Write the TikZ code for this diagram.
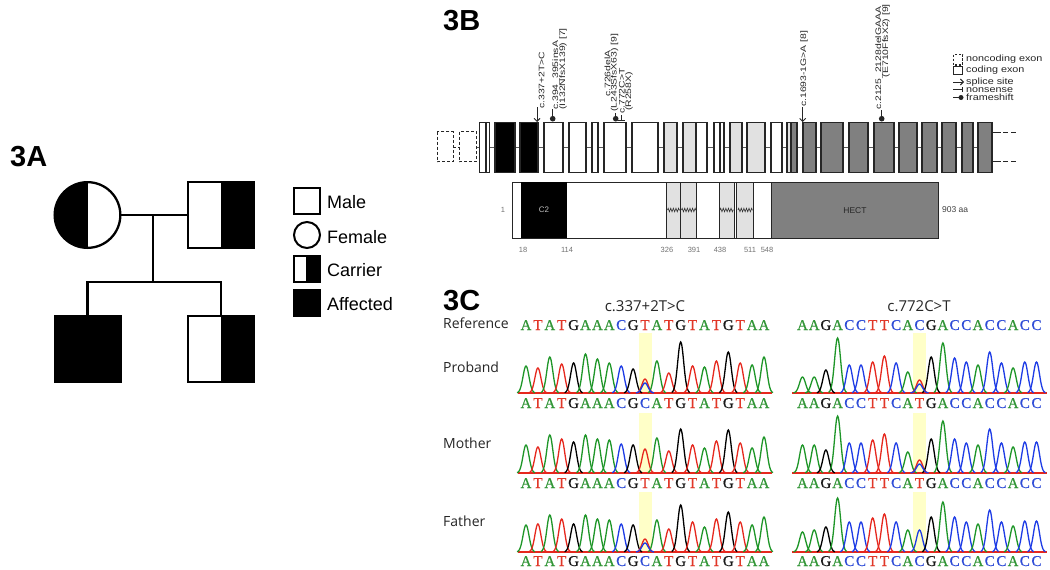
\documentclass[tikz,border=0pt]{standalone}
\usepackage{fontspec}
\setmainfont{Liberation Sans}
\newfontfamily\osans{Open Sans}
\newfontfamily\seqserif[FakeBold=0.6]{Liberation Serif}
\newfontfamily\mutfont[FakeStretch=1.3]{Liberation Sans}
\newfontfamily\legfont[FakeStretch=1.2]{Liberation Sans}
\usetikzlibrary{arrows.meta,decorations.pathmorphing,calc}
\newcommand\myfs[1]{\fontsize{#1}{#1}\selectfont}
\definecolor{chA}{RGB}{30,150,40}
\definecolor{chT}{RGB}{230,40,30}
\definecolor{chG}{RGB}{0,0,0}
\definecolor{chC}{RGB}{30,60,230}
\definecolor{sA}{RGB}{50,150,55}
\definecolor{sT}{RGB}{225,55,40}
\definecolor{sG}{RGB}{25,25,25}
\definecolor{sC}{RGB}{45,75,215}
\definecolor{exl}{RGB}{225,225,225}
\definecolor{exd}{RGB}{128,128,128}
\definecolor{hl}{RGB}{255,255,200}
\newcommand\chrom[4]{%
  \foreach \L/\H [count=\i from 0] in {#4}{%
    \pgfmathsetmacro\px{#1+#2*\i}
    \draw[draw=ch\L, line width=1.3pt] plot[domain=-9:9, samples=29, smooth] ({\px+(\x)},{#3-\H*exp(-(\x)*(\x)/18)});
  }%
}
\newcommand\pk[4]{\draw[draw=#4, line width=1.3pt] plot[domain=-9:9, samples=29, smooth] ({#1+(\x)},{#2-#3*exp(-(\x)*(\x)/18)});}
\newcommand\seqrow[5]{%
  \foreach \L [count=\i from 0] in {#5}{%
    \pgfmathsetmacro\px{#2+#3*\i}
    \node[seqltr, text=s\L] (#1\i) at (\px,#4) {\L};
  }%
}
\begin{document}
\begin{tikzpicture}[x=1pt, y=-1pt,
  ped/.style={draw, line width=2.3pt, inner sep=0pt, outer sep=0pt, minimum size=65.7pt},
  pedsq/.style={ped, rectangle},
  pedci/.style={ped, circle},
  halfR/.style={path picture={\fill[black] (path picture bounding box.north) rectangle (path picture bounding box.south east);}},
  halfL/.style={path picture={\fill[black] (path picture bounding box.north west) rectangle (path picture bounding box.south);}},
  pedline/.style={line width=2.3pt},
  legsym/.style={draw, line width=2pt, inner sep=0pt, outer sep=0pt, minimum size=26pt},
  leglbl/.style={anchor=base west, inner sep=0pt, font=\myfs{18}},
  panel/.style={anchor=base west, inner sep=0pt, font=\bfseries\myfs{29}},
  exon/.style={draw=black!85, line width=1.1pt},
  ncexon/.style={draw=black!85, line width=1.1pt, dash pattern=on 3pt off 2pt},
  intron/.style={draw=black!65, line width=0.9pt},
  mut/.style={rotate=90, inner sep=0pt, font=\mutfont\myfs{8}, text=black!85},
  marker/.style={line width=0.9pt, draw=black!85},
  splice/.style={marker, -{Straight Barb[length=3pt,width=6pt]}},
  legtxt/.style={anchor=west, inner sep=0pt, font=\legfont\myfs{9}, text=black!85},
  prot/.style={draw=black!85, line width=1pt},
  pnum/.style={inner sep=0pt, font=\myfs{7.5}, text=black!55},
  zz/.style={draw=black!80, line width=0.6pt, decorate, decoration={zigzag, segment length=2.6pt, amplitude=1.8pt}},
  hdr/.style={anchor=base, inner sep=0pt, font=\osans\myfs{15}, text=black!85},
  rowlbl/.style={anchor=base west, inner sep=0pt, font=\osans\myfs{14}, text=black!85},
  seqltr/.style={anchor=base, inner sep=0pt, font=\seqserif\myfs{15}},
  base/.style={draw=chT, line width=1.4pt}
]
\fill[white] (0,0) rectangle (1050,570);
\path[use as bounding box] (0,0) rectangle (1050,570);

% ---------------- 3A ----------------
\node[panel] (lblA) at (10,166.7) {3A};
\node[pedci, halfL] (mother) at (87.5,215) {};
\node[pedsq, halfR] (father) at (221,215) {};
\node[pedsq, fill=black] (son1) at (87.5,349) {};
\node[pedsq, halfR] (son2) at (221,349) {};
\coordinate (mid) at (153,215);
\coordinate (sib) at (153,282);
\coordinate (sibL) at (87.5,282);
\coordinate (sibR) at (221,282);
\draw[pedline] (mother.east) -- (father.west);
\draw[pedline] (mid) -- (sib);
\draw[pedline] (son1.north) -- (sibL) -- (sibR) -- (son2.north);

\node[legsym, rectangle] (lgMale) at (307,201) {};
\node[legsym, circle] (lgFemale) at (307,235) {};
\node[legsym, rectangle, path picture={\fill ($(path picture bounding box.north west)!0.45!(path picture bounding box.north east)$) rectangle (path picture bounding box.south east);}] (lgCarrier) at (307,268.5) {};
\node[legsym, rectangle, fill=black] (lgAff) at (307,302.5) {};
\node[leglbl] (tMale) at (327,208) {Male};
\node[leglbl] (tFemale) at (327,243) {Female};
\node[leglbl] (tCarrier) at (327,276.7) {Carrier};
\node[leglbl] (tAff) at (327,310) {Affected};

% ---------------- 3B ----------------
\node[panel] (lblB) at (443,30) {3B};
\draw[intron] (477,147.7) -- (978,147.7);
\draw[ncexon] (437.3,131.7) rectangle (453.3,161.7);
\draw[ncexon] (459.3,131.7) rectangle (476.7,161.7);
\draw[ncexon] (453.3,147.7) -- (459.3,147.7);
\foreach \a/\b/\f in {479.3/486/white, 486/489.3/white, 495/515/black, 520/538/black,
  544/563/white, 569/586/white, 592/598/white, 604/626/white, 632/658/white,
  664/677/exl, 683/696/exl, 696/707/white, 714/720/white, 720/724/white,
  730/742/exl, 747/765/exl, 771/782/white, 787/791/exl, 791/797/exd,
  803/816/exd, 821/843/exd, 849/868/exd, 874/894/exd, 899/917/exd,
  922/937/exd, 942/956/exd, 962/973/exd, 978/992/exd}
  {\draw[exon, fill=\f] (\a,122.7) rectangle (\b,172.7);}
\draw[exon] (992,132.7) -- (1001,132.7);
\draw[exon] (992,161.7) -- (1001,161.7);
\draw[exon, dash pattern=on 5pt off 3pt] (1003,132.7) -- (1018,132.7);
\draw[exon, dash pattern=on 5pt off 3pt] (1003,161.7) -- (1018,161.7);

% mutation markers
\draw[splice] (537,107) -- (537,122);
\draw[marker] (552.7,109) -- (552.7,118);
\fill[black!85] (552.7,118.7) circle[radius=2.8];
\draw[marker] (615.7,113) -- (615.7,118);
\fill[black!85] (615.7,118.7) circle[radius=2.8];
\draw[marker] (621.7,115) -- (621.7,120.5);
\draw[marker] (618.3,120.5) -- (625.1,120.5);
\draw[splice] (802.7,107) -- (802.7,122);
\draw[marker] (881.7,110) -- (881.7,118);
\fill[black!85] (881.7,118.7) circle[radius=2.8];

\node[mut, anchor=west] (m1) at (541.5,109) {c.337+2T>C};
\node[mut, anchor=west] (m2a) at (556,110) {c.394\_395insA};
\node[mut, anchor=west] (m2b) at (563,110) {(I132NfsX139) [7]};
\node[mut, anchor=west] (m3a) at (607.5,97) {c.726delA};
\node[mut, anchor=west] (m3b) at (614.5,112) {(L243SfsX63) [9]};
\node[mut, anchor=west] (m4a) at (621.8,114) {c.772C>T};
\node[mut, anchor=west] (m4b) at (629,111) {(R258X)};
\node[mut, anchor=west] (m5) at (804,107) {c.1693-1G>A [8]};
\node[mut, anchor=west] (m6a) at (879,110) {c.2125\_2128delGAAA};
\node[mut, anchor=east] (m6b) at (886,4) {(E710FfsX2) [9]};

% legend 3B
\draw[ncexon, dash pattern=on 2.5pt off 1.5pt] (953.3,54.5) rectangle (962.7,65);
\draw[exon] (953.3,66.5) rectangle (962.7,74.5);
\draw[splice] (953,82) -- (964,82);
\draw[marker] (953,89.5) -- (962,89.5);
\draw[marker] (962,87) -- (962,92);
\draw[marker] (953,97.5) -- (960,97.5);
\fill[black!85] (961,97.5) circle[radius=2.5];
\node[legtxt] (ln1) at (966,59.5) {noncoding exon};
\node[legtxt] (ln2) at (966,70.5) {coding exon};
\node[legtxt] (ln3) at (966,82.3) {splice site};
\node[legtxt] (ln4) at (966,89.8) {nonsense};
\node[legtxt] (ln5) at (966,97.5) {frameshift};

% protein
\draw[prot, fill=white] (512.7,182.3) rectangle (938,238.3);
\fill[black] (520.7,182.3) rectangle (567.3,238.3);
\foreach \a/\b in {666/680.7, 680.7/696.7, 719/734, 736.7/753.3}
  {\draw[prot, fill=exl] (\a,182.3) rectangle (\b,238.3);}
\draw[prot] (734,182.3) -- (734,238.3);
\draw[prot, fill=exd] (771.7,182.3) rectangle (938,238.3);
\foreach \a/\b in {667.5/680, 681.5/696, 720/733.5, 738/752.5}
  {\draw[zz] (\a,210) -- (\b,210);}
\node[inner sep=0pt, font=\myfs{8}, text=black!25] (c2) at (544,210) {C2};
\node[inner sep=0pt, font=\myfs{8.5}, text=black!85] (hect) at (855,211) {HECT};
\node[pnum] (p1) at (503,210) {1};
\node[pnum, anchor=west, font=\myfs{8.5}, text=black!75] (p903) at (942,210) {903 aa};
\foreach \v/\xx in {18/523, 114/567, 326/667, 391/694, 438/720, 511/750, 548/767}
  {\node[pnum] (n\v) at (\xx,250) {\v};}

% ---------------- 3C ----------------
\node[panel] (lblC) at (443,310) {3C};
\node[hdr] (h1) at (645,311.5) {c.337+2T>C};
\node[hdr] (h2) at (919,311.5) {c.772C>T};
\node[rowlbl] (rRef) at (443,328.3) {Reference};
\node[rowlbl] (rPro) at (443,372) {Proband};
\node[rowlbl] (rMot) at (443,448) {Mother};
\node[rowlbl] (rFat) at (443,526.7) {Father};

% highlights
\foreach \y in {333, 413, 492}{
  \fill[hl] (639,\y) rectangle (652,\y+60);
  \fill[hl] (913,\y) rectangle (926,\y+60);
}

% baselines
\foreach \y in {393, 473, 552}{
  \draw[base] (518,\y) -- (772,\y);
  \draw[base] (792,\y) -- (1047,\y);
}

% proband
\chrom{526}{11.9}{393}{A/27,T/25,A/36,T/29,G/30,A/39,A/34,A/30,C/27,G/24,T/14,A/32,T/20,G/51,T/27,A/26,T/32,G/41,T/30,A/28,A/36}
\pk{645}{393}{10}{chC}
\chrom{802.5}{11.7}{393}{A/16,A/16,G/23,A/55,C/28,C/28,T/31,T/37,C/30,A/21,T/13,G/36,A/50,C/35,C/31,A/28,C/41,C/30,A/25,C/31,C/31}
\pk{919.5}{393}{9}{chC}
% mother
\chrom{526}{11.9}{473}{A/28,T/26,A/38,T/34,G/31,A/38,A/34,A/33,C/29,G/28,T/24,A/35,T/22,G/44,T/28,A/25,T/32,G/43,T/30,A/25,A/36}
\chrom{802.5}{11.7}{473}{A/28,A/28,G/23,A/57,C/30,C/30,T/33,T/39,C/30,A/21,T/13,G/34,A/52,C/34,C/30,A/28,C/44,C/30,A/26,C/31,C/31}
\pk{919.5}{473}{9}{chC}
% father
\chrom{526}{11.9}{552}{A/27,T/28,A/37,T/33,G/28,A/37,A/33,A/32,C/28,G/27,T/13,A/32,T/23,G/47,T/30,A/25,T/33,G/40,T/30,A/27,A/35}
\pk{645}{552}{9}{chC}
\chrom{802.5}{11.7}{552}{A/20,A/22,G/25,A/54,C/30,C/30,T/34,T/38,C/30,A/22,C/22,G/35,A/50,C/35,C/30,A/28,C/42,C/30,A/26,C/31,C/31}

% sequences
\seqrow{ra}{526}{11.9}{330}{A,T,A,T,G,A,A,A,C,G,T,A,T,G,T,A,T,G,T,A,A}
\seqrow{rb}{802.5}{11.7}{330}{A,A,G,A,C,C,T,T,C,A,C,G,A,C,C,A,C,C,A,C,C}
\seqrow{pa}{526}{11.9}{408}{A,T,A,T,G,A,A,A,C,G,C,A,T,G,T,A,T,G,T,A,A}
\seqrow{pb}{802.5}{11.7}{408}{A,A,G,A,C,C,T,T,C,A,T,G,A,C,C,A,C,C,A,C,C}
\seqrow{ma}{526}{11.9}{488}{A,T,A,T,G,A,A,A,C,G,T,A,T,G,T,A,T,G,T,A,A}
\seqrow{mb}{802.5}{11.7}{488}{A,A,G,A,C,C,T,T,C,A,T,G,A,C,C,A,C,C,A,C,C}
\seqrow{fa}{526}{11.9}{566}{A,T,A,T,G,A,A,A,C,G,C,A,T,G,T,A,T,G,T,A,A}
\seqrow{fb}{802.5}{11.7}{566}{A,A,G,A,C,C,T,T,C,A,C,G,A,C,C,A,C,C,A,C,C}
\end{tikzpicture}
\end{document}
